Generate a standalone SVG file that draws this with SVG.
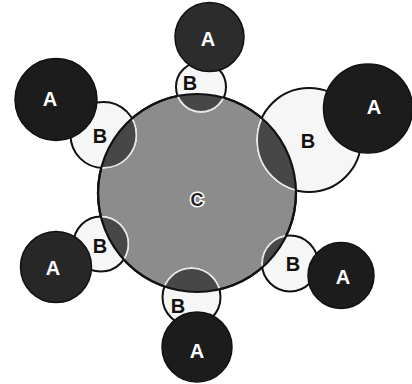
<svg xmlns="http://www.w3.org/2000/svg" width="412" height="384" viewBox="0 0 412 384">
<style>
.a{fill:#1c1c1c;stroke:#111;stroke-width:1.5}
.b{fill:#f6f6f6;stroke:#111;stroke-width:2}
.lens{fill:#474747;stroke:#e8e8e8;stroke-width:2}
.c{fill:#8c8c8c;stroke:#111;stroke-width:2.2}
.co{fill:none;stroke:#111;stroke-width:2.2}
text{font-family:"Liberation Sans",Arial,sans-serif;font-weight:bold;font-size:20px;text-anchor:middle}
.ta{fill:#fff}
.tb{fill:#111}
.tc{fill:#222;stroke:#fff;stroke-width:3;paint-order:stroke}
</style>
<defs>
<clipPath id="clipC"><circle cx="197" cy="193" r="99"/></clipPath>
</defs>
<g id="C">
<circle class="c" cx="197" cy="193" r="99"/>
</g>
<g id="B-nodes">
<g id="B1"><circle class="b" cx="201" cy="87" r="25"/><circle class="lens" cx="201" cy="87" r="25" clip-path="url(#clipC)"/></g>
<g id="B2"><circle class="b" cx="103.5" cy="135" r="33"/><circle class="lens" cx="103.5" cy="135" r="33" clip-path="url(#clipC)"/></g>
<g id="B3"><circle class="b" cx="309" cy="140" r="52"/><circle class="lens" cx="309" cy="140" r="52" clip-path="url(#clipC)"/></g>
<g id="B4"><circle class="b" cx="101" cy="244" r="27.5"/><circle class="lens" cx="101" cy="244" r="27.5" clip-path="url(#clipC)"/></g>
<g id="B5"><circle class="b" cx="290" cy="263.5" r="28"/><circle class="lens" cx="290" cy="263.5" r="28" clip-path="url(#clipC)"/></g>
<g id="B6"><circle class="b" cx="191.5" cy="297" r="29"/><circle class="lens" cx="191.5" cy="297" r="29" clip-path="url(#clipC)"/></g>
</g>
<g id="C-outline"><circle class="co" cx="197" cy="193" r="99"/></g>
<g id="A-nodes">
<g id="A1"><circle class="a" cx="209.5" cy="37" r="34.5" style="fill:#2c2c2c"/></g>
<g id="A2"><circle class="a" cx="56" cy="99.5" r="41"/></g>
<g id="A3"><circle class="a" cx="368" cy="108.5" r="44.5"/></g>
<g id="A4"><circle class="a" cx="56" cy="267" r="35.5" style="fill:#272727"/></g>
<g id="A5"><circle class="a" cx="341" cy="275.5" r="33"/></g>
<g id="A6"><circle class="a" cx="197" cy="347" r="35"/></g>
</g>
<g id="labels">
<text class="ta" x="208" y="46">A</text>
<text class="tb" x="190" y="90">B</text>
<text class="ta" x="50" y="106">A</text>
<text class="tb" x="100" y="143">B</text>
<text class="ta" x="374" y="114">A</text>
<text class="tb" x="308" y="148">B</text>
<text class="tc" x="197" y="206" style="font-size:18px">C</text>
<text class="tb" x="100" y="253">B</text>
<text class="ta" x="53" y="275">A</text>
<text class="tb" x="293" y="271">B</text>
<text class="ta" x="343" y="284">A</text>
<text class="tb" x="178" y="313">B</text>
<text class="ta" x="197" y="358">A</text>
</g>
<g id="connectors"/>
</svg>
